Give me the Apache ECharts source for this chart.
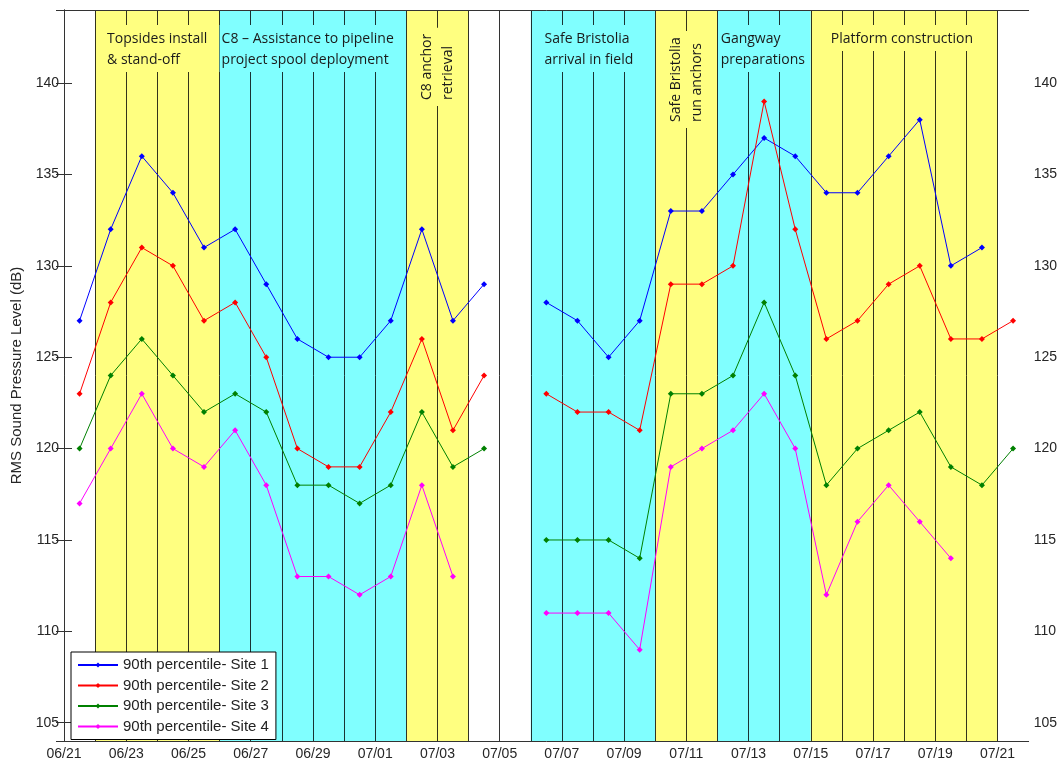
<!DOCTYPE html>
<html><head><meta charset="utf-8">
<script src="https://cdn.jsdelivr.net/npm/echarts@6/dist/echarts.min.js"></script>
<style>html,body{margin:0;padding:0;background:#fff}#c{width:1060px;height:761px}</style>
</head><body><div id="c"></div>
<script>
// ---------- data ----------
const dates = ['06/21','06/22','06/23','06/24','06/25','06/26','06/27','06/28','06/29','06/30',
  '07/01','07/02','07/03','07/04','07/05','07/06','07/07','07/08','07/09','07/10',
  '07/11','07/12','07/13','07/14','07/15','07/16','07/17','07/18','07/19','07/20','07/21'];
const site1 = [127,132,136,134,131,132,129,126,125,125,127,132,127,129,null,128,127,125,127,133,133,135,137,136,134,134,136,138,130,131,null];
const site2 = [123,128,131,130,127,128,125,120,119,119,122,126,121,124,null,123,122,122,121,129,129,130,139,132,126,127,129,130,126,126,127];
const site3 = [120,124,126,124,122,123,122,118,118,117,118,122,119,120,null,115,115,115,114,123,123,124,128,124,118,120,121,122,119,118,120];
const site4 = [117,120,123,120,119,121,118,113,113,112,113,118,113,null,null,111,111,111,109,119,120,121,123,120,112,116,118,116,114,null,null];
const seriesNames = ['90th percentile- Site 1','90th percentile- Site 2','90th percentile- Site 3','90th percentile- Site 4'];
const tickLabels = ['06/21','06/23','06/25','06/27','06/29','07/01','07/03','07/05','07/07','07/09','07/11','07/13','07/15','07/17','07/19','07/21'];
const yTickLabels = ['105','110','115','120','125','130','135','140'];
const phaseStart = ['06/22','06/26','07/02','07/06','07/10','07/12','07/15'];
const phaseEnd   = ['06/26','07/02','07/04','07/10','07/12','07/15','07/21'];
const phaseLabels = ['Topsides install\n& stand-off','C8 – Assistance to pipeline\nproject spool deployment','C8 anchor\nretrieval',
  'Safe Bristolia\narrival in field','Safe Bristolia\nrun anchors','Gangway\npreparations','Platform construction'];

// ---------- layout / style ----------
const COLORS = ['#0000ff','#ff0000','#008000','#ff00ff'];
const YELLOW = '#ffff80', CYAN = '#80ffff';
const labelOffset = [0.32, 0.0, 0, 0.38, 0, 0.04, 0.58]; // day offset of horizontal labels
const AXC = '#333';
const FONT = 'Liberation Sans, Arial, sans-serif';

function dayIndex(s){ const p = s.split('/').map(Number); return Math.round((Date.UTC(2013,p[0]-1,p[1]) - Date.UTC(2013,5,21)) / 86400000); }

const chart = echarts.init(document.getElementById('c'));
const siteData = [site1, site2, site3, site4];
const series = siteData.map((vals,i)=>({
  name: seriesNames[i], type:'line', z:10,
  data: vals.map((v,j)=>[dayIndex(dates[j]) + 0.5, v == null ? '-' : v]),
  connectNulls:false, symbol:'diamond', symbolSize:6, showSymbol:true,
  lineStyle:{width:1, color:COLORS[i]}, itemStyle:{color:COLORS[i]},
  emphasis:{disabled:true}
}));
const firstDay = dayIndex(phaseStart[0]), lastDay = dayIndex(phaseEnd[phaseEnd.length-1]);
const dayLines = [];
for (let d = firstDay; d <= lastDay; d++) dayLines.push({xAxis:d});
series.push({type:'line', data:[], z:1, silent:true,
  markArea:{silent:true, z:1, label:{show:false},
    data: phaseStart.map((s,i)=>[{xAxis:dayIndex(s), itemStyle:{color: i%2 ? CYAN : YELLOW, opacity:1}}, {xAxis:dayIndex(phaseEnd[i])}])}});
series.push({type:'line', data:[], z:2, silent:true,
  markLine:{silent:true, z:2, symbol:['none','none'], label:{show:false}, animation:false,
    lineStyle:{color:'#000', type:'solid', width:1, opacity:0.8}, emphasis:{disabled:true},
    data: dayLines}});

const yAxisBase = {type:'value', min:104, max:144, minInterval:5, maxInterval:5, splitNumber:8, z:20,
  axisLine:{show:true, lineStyle:{color:AXC}}, axisTick:{show:true, inside:true, length:8, lineStyle:{color:AXC}},
  splitLine:{show:false}, showMinLabel:false, showMaxLabel:false,
  axisLabel:{margin:5, fontFamily:FONT, fontSize:14, color:'#262626',
    formatter:v=> yTickLabels.indexOf(String(v)) >= 0 ? String(v) : ''}};

chart.setOption({
  animation:false,
  grid:{left:64, right:29, top:10, bottom:19, show:false},
  legend:{data:seriesNames, orient:'vertical', left:71, top:652, itemWidth:40, itemHeight:6, itemGap:4.5,
    padding:[5,7,5,6], backgroundColor:'#fff', borderColor:'#000', borderWidth:1, borderRadius:0, z:30,
    textStyle:{fontFamily:FONT, fontSize:15, lineHeight:16, color:'#222'}, selectedMode:false},
  xAxis:[
    {type:'value', min:0, max:31, interval:2, z:20, position:'bottom',
      axisLine:{show:true, onZero:false, lineStyle:{color:AXC}}, axisTick:{show:false}, splitLine:{show:false},
      showMaxLabel:false,
      axisLabel:{margin:6, fontFamily:FONT, fontSize:14, color:'#262626',
        formatter:v=> (v % 2 === 0 && tickLabels[v/2]) || ''}},
    {type:'value', min:0, max:31, z:20, position:'top',
      axisLine:{show:true, onZero:false, lineStyle:{color:AXC}}, axisTick:{show:false}, axisLabel:{show:false}, splitLine:{show:false}}
  ],
  yAxis:[
    Object.assign({}, yAxisBase, {position:'left', name:'RMS Sound Pressure Level (dB)', nameLocation:'middle', nameGap:38,
      nameTextStyle:{fontFamily:FONT, fontSize:15, color:'#262626'}}),
    Object.assign({}, yAxisBase, {position:'right'})
  ],
  series: series
});

// phase annotations
const graphics = [];
phaseLabels.forEach((txt,i)=>{
  const s = dayIndex(phaseStart[i]), e = dayIndex(phaseEnd[i]);
  const bg = i%2 ? CYAN : YELLOW;
  if (e - s <= 2) {
    const cx = chart.convertToPixel({gridIndex:0}, [s + 1, 130])[0];
    const yb = i === 2 ? 106 : 128;
    graphics.push({type:'text', x:cx, y:yb, rotation:Math.PI/2, z:50, silent:true,
      style:{text:txt, font:'14px "Open Sans"', fill:'#1a1a1a', lineHeight:21, align:'left', verticalAlign:'middle',
        backgroundColor:bg, padding:[1,6,1,6]}});
  } else {
    const px = chart.convertToPixel({gridIndex:0}, [s + labelOffset[i], 130])[0];
    graphics.push({type:'text', x:px, y:25, z:50, silent:true,
      style:{text:txt, font:'14px "Open Sans"', fill:'#1a1a1a', lineHeight:21, align:'left', verticalAlign:'top',
        backgroundColor:bg, padding:[4,2,1,2]}});
  }
});
chart.setOption({graphic:graphics});
</script></body></html>
